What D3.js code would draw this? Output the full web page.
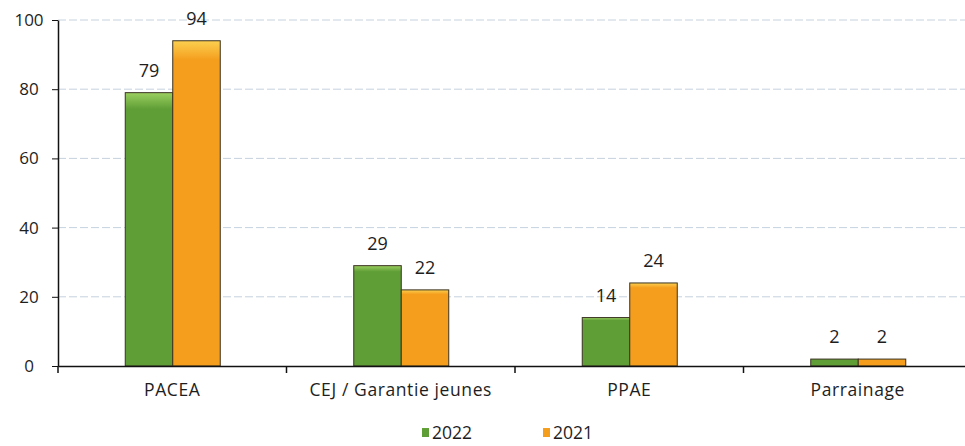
<html>
<head>
    <script src="https://d3js.org/d3.v7.min.js"></script>
    <style>
        body { margin: 0; background: #ffffff; }
        svg { display: block; }
        .tick text { fill: #1e1e1e; }
    </style>
</head>
<body>
    <svg id="chart" width="965" height="446"></svg>

    <script>

    var categories = ["PACEA", "CEJ / Garantie jeunes", "PPAE", "Parrainage"];
    var seriesNames = ["2022", "2021"];
    var values2022 = [79, 29, 14, 2];
    var values2021 = [94, 22, 24, 2];
    var yTicks = [0, 20, 40, 60, 80, 100];

    var colors = { "2022": ["#9cd060", "#5f9e36"], "2021": ["#fcd050", "#f59d1c"] };
    var fontFam = "'Open Sans', sans-serif";

    var svg = d3.select("#chart");
    var mLeft = 58, mRight = 972, mTop = 20, mBottom = 366;

    var x = d3.scaleBand().domain(categories).range([mLeft, mRight]);
    var x1 = d3.scaleBand().domain(seriesNames).range([x.bandwidth() / 2 - 47, x.bandwidth() / 2 + 48]);
    var y = d3.scaleLinear().domain([0, 100]).range([mBottom, mTop]);

    var defs = svg.append("defs");
    seriesNames.forEach(function (s) {
        var g = defs.append("linearGradient").attr("id", "g" + s)
            .attr("x1", 0).attr("y1", 0).attr("x2", 0).attr("y2", 1);
        g.append("stop").attr("offset", "0%").attr("stop-color", colors[s][0]);
        g.append("stop").attr("offset", "6%").attr("stop-color", colors[s][1]);
        g.append("stop").attr("offset", "100%").attr("stop-color", colors[s][1]);
    });

    // gridlines
    svg.append("g").selectAll("line").data(yTicks.slice(1)).enter()
        .append("line")
        .attr("x1", mLeft).attr("x2", 965)
        .attr("y1", function (d) { return y(d); })
        .attr("y2", function (d) { return y(d); })
        .attr("stroke", "#c5d2de")
        .attr("stroke-width", 1)
        .attr("stroke-dasharray", "8,3");

    var rows = categories.map(function (c, i) {
        return { cat: c, vals: [{ s: "2022", v: values2022[i] }, { s: "2021", v: values2021[i] }] };
    });

    var groups = svg.append("g").selectAll("g").data(rows).enter()
        .append("g")
        .attr("transform", function (d) { return "translate(" + x(d.cat) + ",0)"; });

    groups.selectAll("rect").data(function (d) { return d.vals; }).enter()
        .append("rect")
        .attr("x", function (d) { return x1(d.s); })
        .attr("width", x1.bandwidth())
        .attr("y", function (d) { return y(d.v); })
        .attr("height", function (d) { return y(0) - y(d.v); })
        .attr("fill", function (d) { return "url(#g" + d.s + ")"; })
        .attr("stroke", "#3a3222")
        .attr("stroke-width", 1);

    groups.selectAll("text").data(function (d) { return d.vals; }).enter()
        .append("text")
        .attr("x", function (d) { return x1(d.s) + x1.bandwidth() / 2; })
        .attr("y", function (d) { return y(d.v) - 16; })
        .attr("text-anchor", "middle")
        .attr("font-family", fontFam)
        .attr("font-size", "18px")
        .attr("fill", "#1e1e1e")
        .text(function (d) { return d.v; });

    // y axis
    var yAxis = svg.append("g").attr("transform", "translate(" + mLeft + ",0)")
        .call(d3.axisLeft(y).tickValues(yTicks).tickSize(6).tickSizeOuter(0))
        .attr("font-family", fontFam)
        .attr("font-size", "17px");
    yAxis.select(".domain").attr("stroke", "#111").attr("stroke-width", 1.5);
    yAxis.selectAll(".tick line").attr("stroke", "#111");
    yAxis.selectAll(".tick text").attr("x", -29).attr("text-anchor", "middle");

    // x axis
    var xAxis = svg.append("g").attr("transform", "translate(0," + mBottom + ")")
        .call(d3.axisBottom(x).tickSize(0).tickSizeOuter(0))
        .attr("font-family", fontFam)
        .attr("font-size", "17.5px");
    xAxis.select(".domain").attr("stroke", "#111").attr("stroke-width", 1.5);
    xAxis.selectAll(".tick text").attr("dy", "1.55em").attr("letter-spacing", "0.6px");
    svg.append("g").selectAll("line").data(categories).enter()
        .append("line")
        .attr("x1", function (d) { return x(d); })
        .attr("x2", function (d) { return x(d); })
        .attr("y1", mBottom).attr("y2", mBottom + 7)
        .attr("stroke", "#111").attr("stroke-width", 1.5);

    // legend
    var legend = svg.append("g").selectAll("g").data(seriesNames).enter()
        .append("g")
        .attr("transform", function (d, i) { return "translate(" + (422 + i * 121) + ",428)"; });
    legend.append("rect").attr("width", 7).attr("height", 9)
        .attr("fill", function (d) { return "url(#g" + d + ")"; });
    legend.append("text").attr("x", 10).attr("y", 11)
        .attr("font-family", fontFam)
        .attr("font-size", "17.5px").attr("fill", "#1e1e1e")
        .text(function (d) { return d; });

    </script>
</body>
</html>
